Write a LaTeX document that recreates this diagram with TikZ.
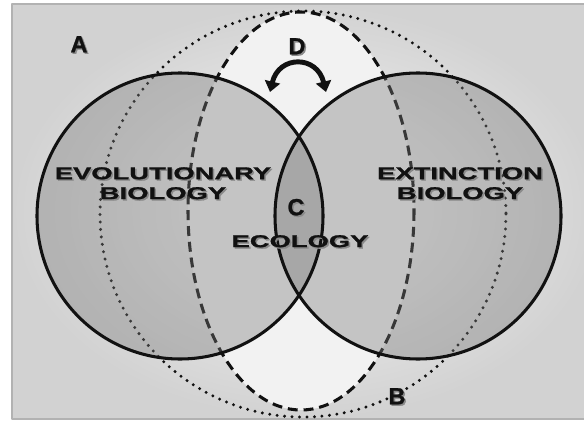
\documentclass[tikz,border=0pt]{standalone}
\usepackage{fontspec}
\usepackage{xcolor}
\usepackage{tikz}
\usetikzlibrary{arrows.meta,positioning}
\newfontfamily\vnwide[FakeStretch=1.6,FakeBold=1.2]{Liberation Sans}
\newfontfamily\vnplain[FakeBold=1]{Liberation Sans}
\definecolor{vnInk}{HTML}{111111}
\definecolor{vnFrame}{HTML}{B2B2B2}
\definecolor{vnPaper}{HTML}{F8F8F8}
\definecolor{vnEdge}{HTML}{D2D2D2}
\definecolor{vnMid}{HTML}{F2F2F2}
\definecolor{vnDisc}{HTML}{7A7A7A}
\definecolor{vnShadow}{HTML}{8A8A8A}
\newcommand{\vnshadow}[1]{\rlap{\hspace{1.3pt}\raisebox{-1.3pt}{\color{vnShadow}#1}}#1}
\tikzset{
  vn diagram/.style={x=0.03cm, y=-0.03cm, line join=round},
  vn paper/.style={draw=vnFrame, line width=2.2pt, inner color=vnPaper, outer color=vnEdge},
  vn disc/.style={fill=vnDisc, fill opacity=0.38},
  vn rim/.style={draw=vnInk, line width=2.6pt},
  vn dash/.style={draw=vnInk, line width=2.6pt, dash pattern=on 8.5pt off 5pt},
  vn dots/.style={draw=vnInk, line width=2.8pt, line cap=round, dash pattern=on 0pt off 6.4pt},
  vn field/.style={font=\vnwide\bfseries\fontsize{14.6}{17}\selectfont, text=vnInk,
    align=center, inner sep=0pt},
  vn letter/.style={font=\vnplain\bfseries\fontsize{20}{24}\selectfont, text=vnInk, inner sep=0pt},
  vn swing/.style={{Triangle[length=9pt,width=13pt]}-{Triangle[length=9pt,width=13pt]},
    draw=vnInk, line width=4.2pt}
}
\begin{document}
\begin{tikzpicture}[vn diagram]
\useasboundingbox (0,0) rectangle (584,423);
\clip (0,0) rectangle (584,423);
\shade[vn paper] (12,4) rectangle (600,419);
\fill[vnMid] (301,211) ellipse [x radius=113, y radius=199];
\draw[vn dash] (301,211) ellipse [x radius=113, y radius=199];
\draw[vn dots] (303,214) circle [radius=203];
\foreach \cx in {180,418}
  \fill[vn disc] (\cx,216) circle [radius=143];
\foreach \cx in {180,418}
  \draw[vn rim] (\cx,216) circle [radius=143];
\coordinate (swing west) at (270,92);
\coordinate (swing east) at (326,92);
\draw[vn swing] (swing west) .. controls (279,55) and (317,55) .. (swing east);
\node[vn letter] (area a) at (79,45) {\vnshadow{A}};
\node[vn letter] (area d) at (297,47) {\vnshadow{D}};
\node[vn letter] (area c) at (296,208) {\vnshadow{C}};
\node[vn letter] (area b) at (397,397) {\vnshadow{B}};
\node[vn field] (evolution) at (163,184) {\vnshadow{EVOLUTIONARY}\\\vnshadow{BIOLOGY}};
\node[vn field] (extinction) at (460,184) {\vnshadow{EXTINCTION}\\\vnshadow{BIOLOGY}};
\node[vn field] (ecology) at (300,242) {\vnshadow{ECOLOGY}};
\end{tikzpicture}
\end{document}
